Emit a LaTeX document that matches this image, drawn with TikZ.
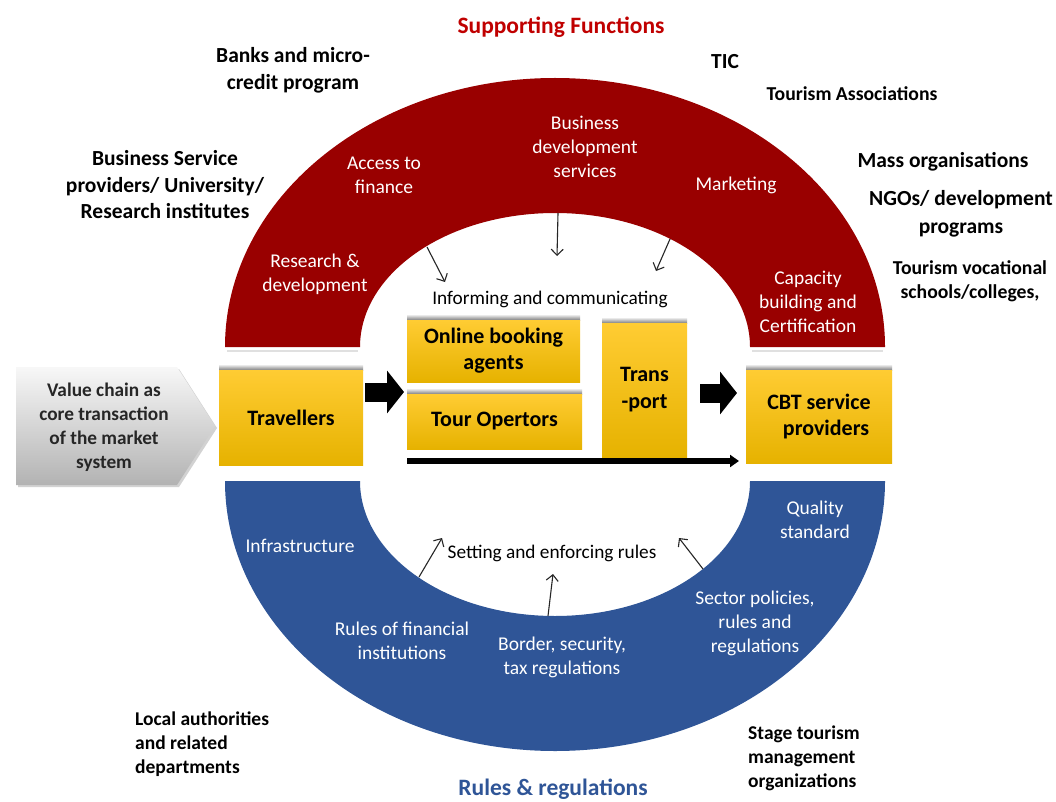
\documentclass[tikz,border=0pt]{standalone}
\usepackage{fontspec}
\setmainfont{Carlito}
\usetikzlibrary{arrows.meta,shadows,calc}
\definecolor{sfred}{HTML}{990000}
\definecolor{rrblue}{HTML}{2F5597}
\definecolor{ttlred}{HTML}{C00000}
\definecolor{ttlblue}{HTML}{2F5597}
\definecolor{yTop}{HTML}{FFCC33}
\definecolor{yMid}{HTML}{FFC000}
\definecolor{yBot}{HTML}{E6B200}
\newcommand{\fsz}[2]{\fontsize{#1}{#2}\selectfont}
\begin{document}
\begin{tikzpicture}[x=1pt,y=-1pt,
  arclabel/.style={text=white, align=center, inner sep=0pt, yshift=-1.5pt, font=\fsz{19.5}{24}},
  plainlabel/.style={text=black, align=center, inner sep=0pt, yshift=-1.5pt, font=\fsz{19.3}{24}},
  outerlabel/.style={text=black, align=center, inner sep=0pt, yshift=-1.5pt, font=\bfseries\fsz{21.5}{26.5}},
  smalllabel/.style={text=black, align=center, inner sep=0pt, yshift=-1.5pt, font=\bfseries\fsz{19.7}{23.5}},
  leftlabel/.style={text=black, align=left, inner sep=0pt, yshift=-1.5pt, font=\bfseries\fsz{19.5}{24}},
  titlelabel/.style={inner sep=0pt, font=\bfseries\fsz{23.5}{26}},
  ybox/.style={inner sep=0pt, align=center, font=\bfseries\fsz{22}{26},
    top color=yTop, middle color=yMid, bottom color=yBot},
  topshade/.style={top color=white, bottom color=black!50},
  thinarrow/.style={draw=black!85, line width=1.1pt, -{Straight Barb[length=6pt,width=12pt]}},
  blockarrow/.style={draw=black, line width=19pt, -{Triangle[length=17pt,width=42pt]}},
  longarrow/.style={draw=black, line width=5.5pt, -{Triangle[length=9pt,width=12pt]}}
]
\useasboundingbox (0,0) rectangle (1056,802);
\fill[white] (0,0) rectangle (1056,802);

% ---- arcs ----
\fill[black!12] (227,350) rectangle (358,352);
\fill[black!12] (752,350) rectangle (883,352);
\fill[sfred] (225,347) arc[start angle=180,end angle=0,x radius=330pt,y radius=269pt]
  -- (750,347) arc[start angle=0,end angle=180,x radius=195pt,y radius=134pt] -- cycle;
\fill[rrblue] (225,481) arc[start angle=180,end angle=360,x radius=330pt,y radius=270pt]
  -- (750,481) arc[start angle=360,end angle=180,x radius=195pt,y radius=135pt] -- cycle;

% ---- titles ----
\node[titlelabel, text=ttlred] (tsup) at (561,27) {Supporting Functions};
\node[titlelabel, text=ttlblue] (trules) at (553,789) {Rules \& regulations};

% ---- outer labels ----
\node[outerlabel] (banks) at (293,69) {Banks and micro-\\credit program};
\node[outerlabel] (tic) at (725,60) {TIC};
\node[smalllabel] (tassoc) at (852,92) {Tourism Associations};
\node[outerlabel, font=\bfseries\fsz{21.5}{28}] (ngo) at (961,212) {NGOs/ development\\programs};
\node[outerlabel] (mass) at (943,160) {Mass organisations};
\node[smalllabel] (voc) at (970,279.5) {Tourism vocational\\schools/colleges,};
\node[outerlabel] (bsp) at (165,183.5) {Business Service\\providers/ University/\\Research institutes};
\node[leftlabel, anchor=west] (local) at (135,743) {Local authorities\\and related\\departments};
\node[leftlabel, anchor=west] (stage) at (748,757) {Stage tourism\\management\\organizations};

% ---- red arc labels ----
\node[arclabel] (fin) at (384,173.5) {Access to\\finance};
\node[arclabel] (bds) at (585,145) {Business\\development\\services};
\node[arclabel] (mkt) at (736,184) {Marketing};
\node[arclabel] (rnd) at (315,272.5) {Research \&\\development};
\node[arclabel] (cap) at (808,300) {Capacity\\building and\\Certification};

% ---- blue arc labels ----
\node[arclabel] (infra) at (300,544) {Infrastructure};
\node[arclabel] (rfi) at (402,639) {Rules of financial\\institutions};
\node[arclabel] (bst) at (562,656) {Border, security,\\tax regulations};
\node[arclabel] (qs) at (815,518.5) {Quality\\standard};
\node[arclabel] (spr) at (755,622) {Sector policies,\\rules and\\regulations};

% ---- inner labels ----
\node[plainlabel] (inf) at (550,298) {Informing and communicating};
\node[plainlabel] (ser) at (552,552) {Setting and enforcing rules};

% ---- thin arrows ----
\coordinate (ia1s) at (427,247); \coordinate (ia1e) at (445,282);
\coordinate (ia2s) at (558,213); \coordinate (ia2e) at (557,256);
\coordinate (ia3s) at (670,239); \coordinate (ia3e) at (656,271);
\coordinate (sa1s) at (419,577); \coordinate (sa1e) at (442,538);
\coordinate (sa2s) at (548,616); \coordinate (sa2e) at (553,574);
\coordinate (sa3s) at (703,569); \coordinate (sa3e) at (679,538);
\draw[thinarrow] (ia1s) -- (ia1e);
\draw[thinarrow] (ia2s) -- (ia2e);
\draw[thinarrow] (ia3s) -- (ia3e);
\draw[thinarrow] (sa1s) -- (sa1e);
\draw[thinarrow] (sa2s) -- (sa2e);
\draw[thinarrow] (sa3s) -- (sa3e);

% ---- value chain pentagon ----
\path[drop shadow={opacity=0.35,shadow xshift=2pt,shadow yshift=-2pt},
  top color=black!3, bottom color=black!30]
  (16,367) -- (177,367) -- (215,426) -- (177,485) -- (16,485) -- cycle;
\node[text=black!85, align=center, inner sep=0pt, yshift=-1.5pt, font=\bfseries\fsz{19.3}{24}] (vc) at (104,426)
  {Value chain as\\core transaction\\of the market\\system};

% ---- yellow boxes ----
\fill[topshade] (219,364) rectangle (363,370);
\fill[topshade] (407,314) rectangle (580,320);
\fill[topshade] (407,388) rectangle (582,394);
\fill[topshade] (602,317) rectangle (687,323);
\fill[topshade] (746,364) rectangle (892,370);
\node[ybox, minimum width=144pt, minimum height=95pt] (trav) at (291,417.5) {Travellers};
\node[ybox, minimum width=173pt, minimum height=62pt] (obk) at (493.5,351) {Online booking\\agents};
\node[ybox, minimum width=175pt, minimum height=55pt] (tour) at (494.5,421.5) {Tour Opertors};
\node[ybox, minimum width=85pt, minimum height=134pt, font=\bfseries\fsz{22}{27}] (trans) at (644.5,390) {Trans\\-port};
\node[ybox, minimum width=146pt, minimum height=93pt] (cbt) at (819,416.5) {CBT service\\\hspace*{14pt}providers};

% ---- block arrows ----
\coordinate (ba1s) at (365,392); \coordinate (ba1e) at (404,392);
\coordinate (ba2s) at (700,393); \coordinate (ba2e) at (737,393);
\draw[blockarrow] (ba1s) -- (ba1e);
\draw[blockarrow] (ba2s) -- (ba2e);
\coordinate (la1) at (407,461); \coordinate (la2) at (739,461);
\draw[longarrow] (la1) -- (la2);
\end{tikzpicture}
\end{document}
